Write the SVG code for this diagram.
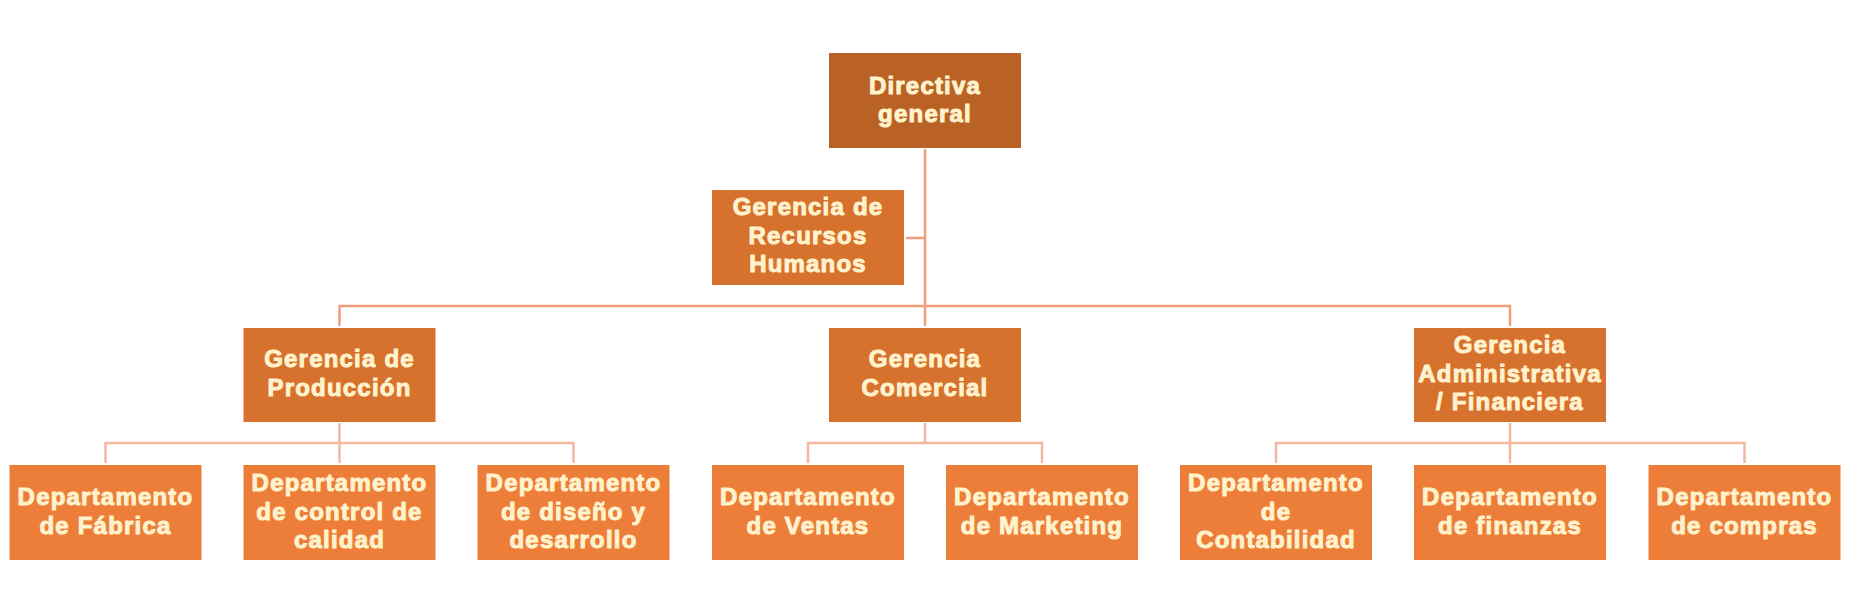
<svg xmlns="http://www.w3.org/2000/svg" width="1858" height="613" viewBox="0 0 1858 613">
<style>
.t{font-family:"Liberation Sans",Arial,sans-serif;font-weight:bold;font-size:24px;letter-spacing:1.2px;fill:#FFF2CC;stroke:#FFF2CC;stroke-width:1;stroke-linejoin:round;text-anchor:middle}
.top{fill:#BA6225}
.mid{fill:#D7712E}
.bot{fill:#ED7E3A}
.main{stroke:#F29E7B;stroke-width:2.5;fill:none}
.sub{stroke:#F3B7A0;stroke-width:2.5;fill:none}
</style>
<rect width="1858" height="613" fill="#FFFFFF"/>
<g id="connectors">
<path class="main" d="M925,149 V326 M339.5,326 V306 H1510 V326"/>
<path class="main" d="M906,238 H925" stroke-width="3.5"/>
<path class="sub" d="M339.5,423 V463 M105.5,463 V443 H573.5 V463"/>
<path class="sub" d="M925,423 V443 M808,463 V443 H1042 V463"/>
<path class="sub" d="M1510,423 V463 M1276,463 V443 H1744.5 V463"/>
</g>
<g id="directiva">
<rect class="top" x="829" y="53" width="192" height="95"/>
<text class="t" x="925" y="93.5">Directiva</text>
<text class="t" x="925" y="121.5">general</text>
</g>
<g id="rrhh">
<rect class="mid" x="712" y="190" width="192" height="95"/>
<text class="t" x="808" y="215">Gerencia de</text>
<text class="t" x="808" y="243.5">Recursos</text>
<text class="t" x="808" y="272">Humanos</text>
</g>
<g id="produccion">
<rect class="mid" x="243.5" y="328" width="192" height="94"/>
<text class="t" x="339.5" y="367">Gerencia de</text>
<text class="t" x="339.5" y="396">Producción</text>
</g>
<g id="comercial">
<rect class="mid" x="829" y="328" width="192" height="94"/>
<text class="t" x="925" y="367">Gerencia</text>
<text class="t" x="925" y="396">Comercial</text>
</g>
<g id="administrativa">
<rect class="mid" x="1414" y="328" width="192" height="94"/>
<text class="t" x="1510" y="352.7">Gerencia</text>
<text class="t" x="1510" y="381.5">Administrativa</text>
<text class="t" x="1510" y="410">/ Financiera</text>
</g>
<g id="fabrica">
<rect class="bot" x="9.5" y="465" width="192" height="95"/>
<text class="t" x="105.5" y="504.5">Departamento</text>
<text class="t" x="105.5" y="533.5">de Fábrica</text>
</g>
<g id="calidad">
<rect class="bot" x="243.5" y="465" width="192" height="95"/>
<text class="t" x="339.5" y="491">Departamento</text>
<text class="t" x="339.5" y="519.5">de control de</text>
<text class="t" x="339.5" y="548">calidad</text>
</g>
<g id="diseno">
<rect class="bot" x="477.5" y="465" width="192" height="95"/>
<text class="t" x="573.5" y="491">Departamento</text>
<text class="t" x="573.5" y="519.5">de diseño y</text>
<text class="t" x="573.5" y="548">desarrollo</text>
</g>
<g id="ventas">
<rect class="bot" x="712" y="465" width="192" height="95"/>
<text class="t" x="808" y="504.5">Departamento</text>
<text class="t" x="808" y="533.5">de Ventas</text>
</g>
<g id="marketing">
<rect class="bot" x="946" y="465" width="192" height="95"/>
<text class="t" x="1042" y="504.5">Departamento</text>
<text class="t" x="1042" y="533.5">de Marketing</text>
</g>
<g id="contabilidad">
<rect class="bot" x="1180" y="465" width="192" height="95"/>
<text class="t" x="1276" y="491">Departamento</text>
<text class="t" x="1276" y="519.5">de</text>
<text class="t" x="1276" y="548">Contabilidad</text>
</g>
<g id="finanzas">
<rect class="bot" x="1414" y="465" width="192" height="95"/>
<text class="t" x="1510" y="504.5">Departamento</text>
<text class="t" x="1510" y="533.5">de finanzas</text>
</g>
<g id="compras">
<rect class="bot" x="1648.5" y="465" width="192" height="95"/>
<text class="t" x="1744.5" y="504.5">Departamento</text>
<text class="t" x="1744.5" y="533.5">de compras</text>
</g>
</svg>
